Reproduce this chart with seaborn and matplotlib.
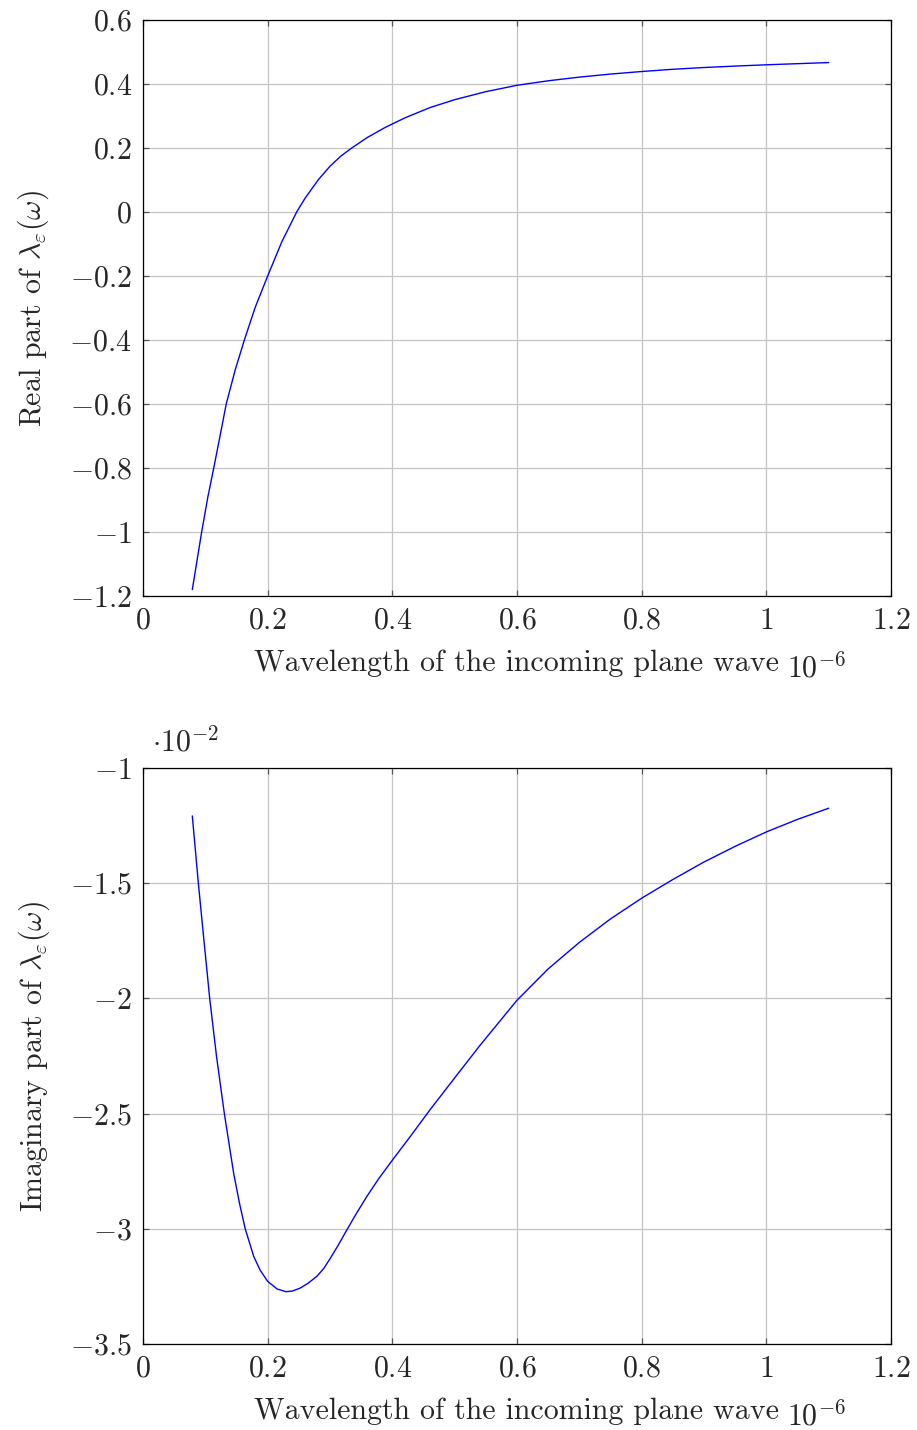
import matplotlib
matplotlib.use("Agg")
import matplotlib.pyplot as plt
import seaborn as sns
import pandas as pd
from matplotlib.ticker import FixedLocator, FuncFormatter

# ---- data (wavelength in units of 1e-6) ----
wl_real = [0.0791, 0.0941, 0.104, 0.1135, 0.124, 0.1335, 0.148, 0.1626, 0.18, 0.2,
           0.2225, 0.2465, 0.26, 0.2813, 0.30, 0.317, 0.3348, 0.36, 0.3883, 0.42, 0.46,
           0.5, 0.55, 0.6, 0.65, 0.7, 0.75, 0.8, 0.85, 0.9, 0.95, 1.0, 1.05, 1.1]
real_part = [-1.180, -1.0, -0.891, -0.8, -0.696, -0.6, -0.493, -0.4, -0.298, -0.2,
             -0.094, 0.0, 0.043, 0.101, 0.143, 0.174, 0.2, 0.233, 0.264, 0.294, 0.326,
             0.351, 0.376, 0.396, 0.41, 0.4215, 0.431, 0.439, 0.446, 0.4515, 0.456, 0.460, 0.4635, 0.467]

wl_imag = [0.0791, 0.0888, 0.0979, 0.107, 0.118, 0.1305, 0.1455, 0.155, 0.164, 0.1775,
           0.188, 0.2, 0.215, 0.2294, 0.24, 0.2524, 0.265, 0.279, 0.29, 0.3005,
           0.313, 0.327, 0.342, 0.359, 0.378, 0.397, 0.43, 0.46, 0.5, 0.54,
           0.6, 0.65, 0.7, 0.75, 0.8, 0.85, 0.9, 0.95, 1.0, 1.05, 1.1]
imag_part = [-1.208, -1.5, -1.752, -2.0, -2.253, -2.5, -2.76, -2.892, -3.0, -3.119,
             -3.18, -3.228, -3.261, -3.273, -3.27, -3.257, -3.236, -3.206, -3.172, -3.128,
             -3.072, -3.005, -2.935, -2.86, -2.783, -2.713, -2.595, -2.485, -2.345, -2.206,
             -2.008, -1.872, -1.757, -1.655, -1.565, -1.484, -1.408, -1.34, -1.2775, -1.223, -1.1745]

x_ticks = [0, 0.2, 0.4, 0.6, 0.8, 1, 1.2]
y_ticks_real = [-1.2, -1, -0.8, -0.6, -0.4, -0.2, 0, 0.2, 0.4, 0.6]
y_ticks_imag = [-3.5, -3, -2.5, -2, -1.5, -1]

sns.set_theme(style="ticks")
plt.rcParams.update({
    "font.family": "serif",
    "font.serif": ["cmr10", "DejaVu Serif"],
    "mathtext.fontset": "cm",
    "axes.unicode_minus": False,
    "axes.formatter.use_mathtext": True,
})

FS = 21.5

def fmt(v, pos=None):
    return r"$%s$" % ("%g" % v)

fig = plt.figure(figsize=(9.17, 14.30), dpi=100)
ax1 = fig.add_axes([143/917, 1-596/1430, 748/917, 576/1430])
ax2 = fig.add_axes([143/917, 1-1344/1430, 748/917, 576/1430])

df1 = pd.DataFrame({"x": wl_real, "y": real_part})
df2 = pd.DataFrame({"x": wl_imag, "y": imag_part})
sns.lineplot(data=df1, x="x", y="y", ax=ax1, color="#0000ff", lw=1.0, sort=False)
sns.lineplot(data=df2, x="x", y="y", ax=ax2, color="#0000ff", lw=1.0, sort=False)

for ax, yt, ylab in [(ax1, y_ticks_real, r"Real part of $\lambda_\varepsilon(\omega)$"),
                     (ax2, y_ticks_imag, r"Imaginary part of $\lambda_\varepsilon(\omega)$")]:
    ax.set_xlim(0, 1.2)
    ax.set_ylim(yt[0], yt[-1])
    ax.xaxis.set_major_locator(FixedLocator(x_ticks))
    ax.yaxis.set_major_locator(FixedLocator(yt))
    ax.xaxis.set_major_formatter(FuncFormatter(fmt))
    ax.yaxis.set_major_formatter(FuncFormatter(fmt))
    ax.grid(True, color="#c4c4c4", lw=0.9)
    ax.set_axisbelow(True)
    ax.tick_params(direction="in", length=4, width=0.9, color="#555555",
                   top=True, right=True, labelsize=FS, pad=8)
    for sp in ax.spines.values():
        sp.set_color("black")
        sp.set_linewidth(0.9)
        sp.set_visible(True)
    ax.set_xlabel("Wavelength of the incoming plane wave", fontsize=FS, labelpad=10.5)
    ax.set_ylabel(ylab, fontsize=FS, labelpad=13)
    ax.text(0.861, -0.1406, r"$10^{-6}$", transform=ax.transAxes, fontsize=FS,
            ha="left", va="baseline")

ax2.text(0.012, 1.0295, r"$\cdot 10^{-2}$", transform=ax2.transAxes, fontsize=FS,
         ha="left", va="baseline")

fig.savefig("out.png", dpi=100)
